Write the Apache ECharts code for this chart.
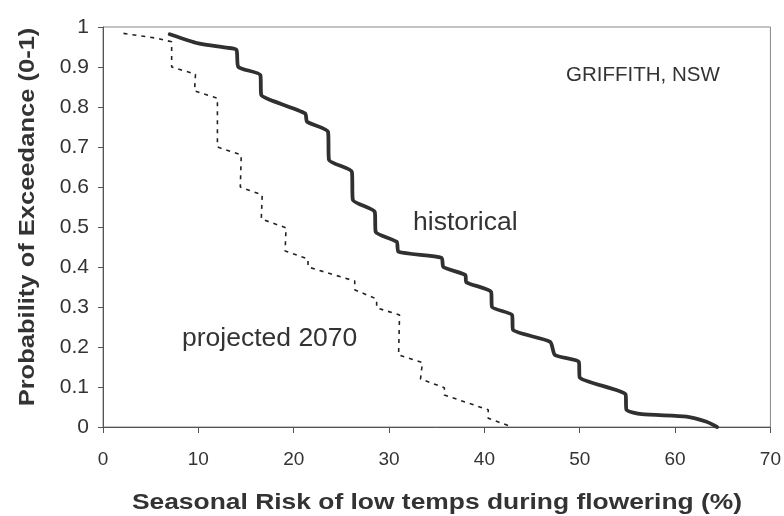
<!DOCTYPE html>
<html>
<head>
<meta charset="utf-8">
<title>Probability of Exceedance - Griffith</title>
<script src="https://cdn.jsdelivr.net/npm/echarts@6/dist/echarts.min.js"></script>
<style>
  html, body { margin: 0; padding: 0; background: #fff; }
  #chart { width: 784px; height: 516px; }
</style>
</head>
<body>
<div id="chart"></div>
<script>
// seasonal risk (%) and exceedance probability
var historicalRisk = [7.0, 10.0, 13.1, 14.0, 14.2, 16.5, 16.6, 17.5, 21.2, 21.4, 23.6, 23.7, 26.1, 26.2, 28.5, 28.6, 30.8, 31.0, 35.5, 35.7, 38.0, 38.1, 40.7, 40.8, 42.9, 43.0, 46.9, 47.4, 49.9, 50.0, 54.8, 54.9, 56.5, 61.2, 63.3, 64.4];
var historicalProb = [0.982, 0.959, 0.948, 0.943, 0.90, 0.88, 0.83, 0.818, 0.784, 0.763, 0.738, 0.668, 0.638, 0.568, 0.538, 0.488, 0.463, 0.438, 0.423, 0.40, 0.38, 0.362, 0.338, 0.30, 0.28, 0.243, 0.213, 0.18, 0.163, 0.124, 0.082, 0.043, 0.032, 0.026, 0.013, 0];

var projectedRisk = [2.15, 5.6, 7.2, 7.2, 9.7, 9.6, 12.0, 12.0, 14.5, 14.4, 16.7, 16.6, 19.2, 19.1, 21.5, 21.5, 26.4, 26.4, 28.7, 28.7, 31.1, 31.0, 33.5, 33.3, 35.8, 35.8, 40.4, 40.4, 42.9];
var projectedProb = [0.984, 0.972, 0.963, 0.90, 0.882, 0.84, 0.822, 0.70, 0.68, 0.60, 0.58, 0.52, 0.498, 0.44, 0.42, 0.40, 0.365, 0.343, 0.32, 0.298, 0.28, 0.18, 0.161, 0.12, 0.098, 0.08, 0.043, 0.022, 0];

var xMin = 0, xMax = 70, xStep = 10;
var yMin = 0, yMax = 1, yStep = 0.1;

function pairs(xs, ys) {
  var out = [];
  for (var i = 0; i < xs.length; i++) out.push([xs[i], ys[i]]);
  return out;
}

var font = "'Liberation Sans', Arial, sans-serif";
var myChart = echarts.init(document.getElementById('chart'));
myChart.setOption({
  animation: false,
  backgroundColor: '#fff',
  grid: {
    left: 103, right: 13, top: 27, bottom: 89,
    show: true, borderColor: '#8c8585', borderWidth: 1, backgroundColor: 'transparent'
  },
  xAxis: {
    type: 'value', min: xMin, max: xMax, interval: xStep,
    axisLine: { show: true, lineStyle: { color: '#555', width: 1 } },
    axisTick: { show: true, inside: false, length: 6, lineStyle: { color: '#555' } },
    axisLabel: { fontFamily: font, fontSize: 19, color: '#333', margin: 23 },
    splitLine: { show: false }
  },
  yAxis: {
    type: 'value', min: yMin, max: yMax, interval: yStep,
    axisLine: { show: true, lineStyle: { color: '#555', width: 1 } },
    axisTick: { show: true, inside: false, length: 5, lineStyle: { color: '#555' } },
    axisLabel: { fontFamily: font, fontSize: 21, color: '#333', margin: 14 },
    splitLine: { show: false }
  },
  graphic: [
    // axis titles as text so they can be stretched like the original
    { type: 'text', x: 28, y: 217, rotation: Math.PI / 2, scaleX: 1.16,
      style: { text: 'Probability of Exceedance (0-1)', font: 'bold 22px ' + font, fill: '#333', align: 'center', verticalAlign: 'middle' } },
    { type: 'text', x: 437, y: 503, scaleX: 1.2,
      style: { text: 'Seasonal Risk of low temps during flowering (%)', font: 'bold 22px ' + font, fill: '#333', align: 'center', verticalAlign: 'middle' } },
    { type: 'text', x: 566, y: 75,
      style: { text: 'GRIFFITH, NSW', font: '20.5px ' + font, fill: '#333', align: 'left', verticalAlign: 'middle' } },
    { type: 'text', x: 413, y: 223,
      style: { text: 'historical', font: '26.5px ' + font, fill: '#333', align: 'left', verticalAlign: 'middle' } },
    { type: 'text', x: 182, y: 339,
      style: { text: 'projected 2070', font: '26.5px ' + font, fill: '#333', align: 'left', verticalAlign: 'middle' } }
  ],
  series: [
    {
      name: 'historical', type: 'line', data: pairs(historicalRisk, historicalProb),
      symbol: 'none', smooth: 0.2,
      lineStyle: { color: '#303030', width: 3.8, join: 'round', cap: 'round' }
    },
    {
      name: 'projected 2070', type: 'line', data: pairs(projectedRisk, projectedProb),
      symbol: 'none', smooth: false,
      lineStyle: { color: '#222', width: 1.6, type: [4, 5] }
    }
  ]
});
</script>
</body>
</html>
